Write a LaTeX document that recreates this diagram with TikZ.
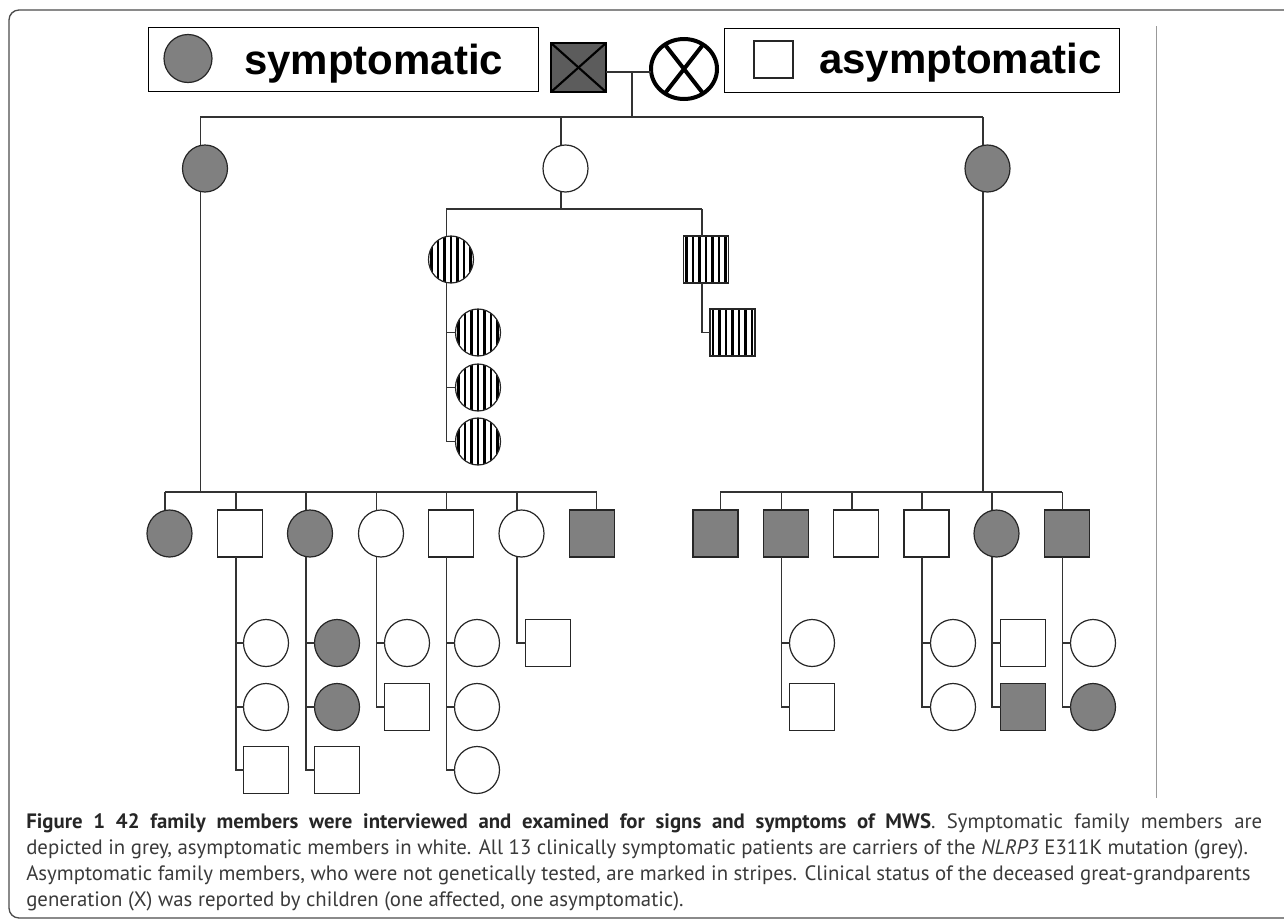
\documentclass[tikz,border=0pt]{standalone}
\usepackage{fontspec}
\setmainfont{PT Sans}
\newfontfamily\legfont{Liberation Sans}
\usetikzlibrary{shapes.geometric}
\definecolor{affgrey}{HTML}{808080}
\definecolor{darkx}{HTML}{5C5C5C}
\definecolor{lnc}{HTML}{333333}
\definecolor{txtc}{HTML}{3A3A3A}
\newcommand{\dropto}[3]{\coordinate (tmpd) at ([xshift=#2]#1.north);\draw[conn] (tmpd) -- (tmpd |- #3);}
\newcommand{\kid}[3]{\coordinate (tmpk) at ([xshift=#2]#1.south);\draw[conn] (tmpk) |- (#3.west);}
\begin{document}
\begin{tikzpicture}[x=0.75pt,y=-0.75pt,
  pers/.style={draw=black!85, line width=0.9pt, inner sep=0pt, outer sep=0pt},
  fem/.style={pers, ellipse, minimum width=33.75pt, minimum height=35.25pt},
  mal/.style={pers, rectangle, minimum width=33.75pt, minimum height=35.25pt},
  aff/.style={fill=affgrey},
  una/.style={fill=white},
  stripes/.style={fill=white, path picture={\foreach \k in {-5,...,5}{\draw[line width=2pt,black] ([xshift=\k*4.9pt]path picture bounding box.north) -- ([xshift=\k*4.9pt]path picture bounding box.south);}}},
  conn/.style={draw=lnc, line width=0.8pt},
  legbox/.style={draw=black, line width=1.1pt, inner sep=0pt, anchor=north west},
  legtxt/.style={anchor=base west, inner sep=0pt, font=\legfont\bfseries\fontsize{31.5}{31.5}\selectfont},
  captxt/.style={anchor=base west, inner sep=0pt, text=txtc, font=\fontsize{15.6}{18}\selectfont}
]
\useasboundingbox (0,0) rectangle (1284,921);
\clip (0,0) rectangle (1284,921);
% outer frame
\draw[draw=black!70, line width=1pt, rounded corners=7.5pt] (9,10) rectangle (1310,918);
\draw[draw=black!40, line width=0.75pt] (1156,26) -- (1156,798);

% legend
\node[legbox, minimum width=292.5pt, minimum height=48pt] (leg1) at (148,27) {};
\node[fem, aff, minimum width=36pt, minimum height=36pt] (legc) at (188,58.5) {};
\node[legtxt] (legt1) at (244,74) {symptomatic};
\node[legbox, minimum width=296.25pt, minimum height=48pt] (leg2) at (724,28) {};
\node[pers, rectangle, fill=white, line width=0.8pt, minimum width=29.25pt, minimum height=27.75pt] (legs) at (773.5,59.5) {};
\node[legtxt] (legt2) at (819,73) {asymptomatic};

% generation I
\node[pers, rectangle, fill=darkx, draw=black, line width=2.2pt, minimum width=41.25pt, minimum height=36.75pt] (g1m) at (578.5,67.5) {};
\draw[black, line width=1.6pt] (g1m.north west) -- (g1m.south east);
\draw[black, line width=1.6pt] (g1m.north east) -- (g1m.south west);
\node[pers, ellipse, fill=white, draw=black, line width=3pt, minimum width=49.5pt, minimum height=45pt] (g1f) at (684,69) {};
\draw[black, line width=3pt] (g1f.128) -- (g1f.308);
\draw[black, line width=3pt] (g1f.52) -- (g1f.232);
\coordinate (mA) at (632,72);
\coordinate (y2) at (632,117);
\draw[conn] (g1m.east |- mA) -- (g1f.west |- mA);
\draw[conn] (mA) -- (y2);

% generation II
\node[fem, aff] (g2a) at (205,168.5) {};
\node[fem, una] (g2b) at (565.5,168.5) {};
\node[fem, aff] (g2c) at (987.5,168.5) {};
\coordinate (g2at) at ([xshift=-3.4pt]g2a.north);
\coordinate (g2bt) at ([xshift=-3.4pt]g2b.north);
\coordinate (g2ct) at ([xshift=-3.4pt]g2c.north);
\draw[conn] (g2at |- y2) -- (g2ct |- y2);
\dropto{g2a}{-3.4pt}{y2}
\dropto{g2b}{-3.4pt}{y2}
\dropto{g2c}{-3.4pt}{y2}

% middle branch
\coordinate (ym) at (0,209);
\node[fem, stripes] (m1) at (451,259.5) {};
\node[mal, stripes] (m2) at (706,259.5) {};
\node[fem, stripes] (m1a) at (478,332.5) {};
\node[fem, stripes] (m1b) at (478,387.5) {};
\node[fem, stripes] (m1c) at (478,441.5) {};
\node[mal, stripes] (m2a) at (732.5,332.5) {};
\coordinate (m1t) at ([xshift=-3.4pt]m1.north);
\coordinate (m2t) at ([xshift=-3pt]m2.north);
\draw[conn] (m1t |- ym) -- (m2t |- ym);
\coordinate (g2bb) at ([xshift=-3.4pt]g2b.south);
\draw[conn] (g2bb) -- (g2bb |- ym);
\dropto{m1}{-3.4pt}{ym}
\dropto{m2}{-3pt}{ym}
\kid{m1}{-3.4pt}{m1a}
\kid{m1}{-3.4pt}{m1b}
\kid{m1}{-3.4pt}{m1c}
\kid{m2}{-3pt}{m2a}

% generation III
\coordinate (y3) at (0,492);
\node[fem, aff] (L1) at (169.5,533.5) {};
\node[mal, una] (L2) at (240,533.5) {};
\node[fem, aff] (L3) at (310,533.5) {};
\node[fem, una] (L4) at (381,533.5) {};
\node[mal, una] (L5) at (451,533.5) {};
\node[fem, una] (L6) at (521.5,533.5) {};
\node[mal, aff] (L7) at (592,533.5) {};
\node[mal, aff] (R1) at (715.5,533.5) {};
\node[mal, aff] (R2) at (786,533.5) {};
\node[mal, una] (R3) at (856,533.5) {};
\node[mal, una] (R4) at (926.5,533.5) {};
\node[fem, aff] (R5) at (996.5,533.5) {};
\node[mal, aff] (R6) at (1067,533.5) {};
\coordinate (g2ab) at ([xshift=-3.4pt]g2a.south);
\coordinate (g2cb) at ([xshift=-3.4pt]g2c.south);
\draw[conn] (g2ab) -- (g2ab |- y3);
\draw[conn] (g2cb) -- (g2cb |- y3);
\coordinate (L1t) at ([xshift=-3.4pt]L1.north);
\coordinate (L7t) at ([xshift=3.7pt]L7.north);
\coordinate (R1t) at ([xshift=3.4pt]R1.north);
\coordinate (R6t) at ([xshift=-3.7pt]R6.north);
\draw[conn] (L1t |- y3) -- (L7t |- y3);
\draw[conn] (R1t |- y3) -- (R6t |- y3);
\dropto{L1}{-3.4pt}{y3}
\dropto{L2}{-3pt}{y3}
\dropto{L3}{-3pt}{y3}
\dropto{L4}{-3.6pt}{y3}
\dropto{L5}{-3.6pt}{y3}
\dropto{L6}{-3.4pt}{y3}
\dropto{L7}{3.7pt}{y3}
\dropto{R1}{3.4pt}{y3}
\dropto{R2}{-3.6pt}{y3}
\dropto{R3}{-3pt}{y3}
\dropto{R4}{-3.4pt}{y3}
\dropto{R5}{-3.4pt}{y3}
\dropto{R6}{-3.7pt}{y3}

% generation IV
\node[fem, una] (a1) at (266,643) {};
\node[fem, una] (a2) at (266,707) {};
\node[mal, una] (a3) at (266,770) {};
\node[fem, aff] (b1) at (337,643) {};
\node[fem, aff] (b2) at (337,707) {};
\node[mal, una] (b3) at (337,770) {};
\node[fem, una] (c1) at (407,643) {};
\node[mal, una] (c2) at (407,707) {};
\node[fem, una] (d1) at (477,643) {};
\node[fem, una] (d2) at (477,707) {};
\node[fem, una] (d3) at (477,770) {};
\node[mal, una] (e1) at (548,643) {};
\node[fem, una] (f1) at (812,643) {};
\node[mal, una] (f2) at (812,707) {};
\node[fem, una] (h1) at (953,643) {};
\node[fem, una] (h2) at (953,707) {};
\node[mal, una] (i1) at (1023,643) {};
\node[mal, aff] (i2) at (1023,707) {};
\node[fem, una] (j1) at (1093,643) {};
\node[fem, aff] (j2) at (1093,707) {};
\kid{L2}{-3pt}{a1}\kid{L2}{-3pt}{a2}\kid{L2}{-3pt}{a3}
\kid{L3}{-3pt}{b1}\kid{L3}{-3pt}{b2}\kid{L3}{-3pt}{b3}
\kid{L4}{-3.6pt}{c1}\kid{L4}{-3.6pt}{c2}
\kid{L5}{-3.6pt}{d1}\kid{L5}{-3.6pt}{d2}\kid{L5}{-3.6pt}{d3}
\kid{L6}{-3.4pt}{e1}
\kid{R2}{-3.6pt}{f1}\kid{R2}{-3.6pt}{f2}
\kid{R4}{-3.4pt}{h1}\kid{R4}{-3.4pt}{h2}
\kid{R5}{-3.4pt}{i1}\kid{R5}{-3.4pt}{i2}
\kid{R6}{-3.7pt}{j1}\kid{R6}{-3.7pt}{j2}

% caption
\node[captxt] (cap1) at (26,828) {\makebox[927pt][s]{\textbf{\color{black!85}Figure 1 42 family members were interviewed and examined for signs and symptoms of MWS}. Symptomatic family members are}};
\node[captxt] (cap2) at (26,854) {depicted in grey, asymptomatic members in white. All 13 clinically symptomatic patients are carriers of the \textit{NLRP3} E311K mutation (grey).};
\node[captxt] (cap3) at (26,880) {Asymptomatic family members, who were not genetically tested, are marked in stripes. Clinical status of the deceased great-grandparents};
\node[captxt] (cap4) at (26,906) {generation (X) was reported by children (one affected, one asymptomatic).};
\end{tikzpicture}
\end{document}
